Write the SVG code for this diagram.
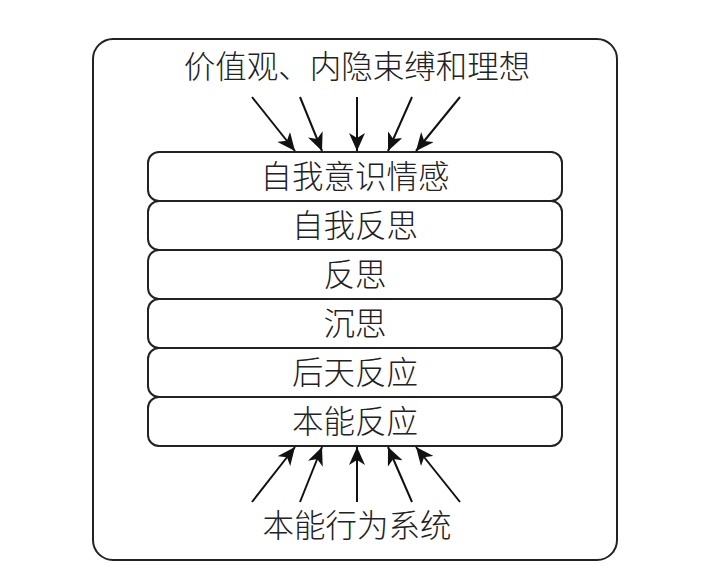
<svg xmlns="http://www.w3.org/2000/svg" width="720" height="571" viewBox="0 0 720 571">
<style>
.t{font-family:"Noto Sans CJK SC","Noto Sans CJK JP",sans-serif;font-size:31.5px;font-weight:300;fill:#222;text-anchor:middle}
.layer{fill:#fff;stroke:#222;stroke-width:2}
.ar{stroke:#111;stroke-width:2;fill:none;marker-end:url(#ah)}
</style>
<defs>
<marker id="ah" markerUnits="userSpaceOnUse" markerWidth="20" markerHeight="16" refX="18" refY="8" orient="auto">
<path d="M0,0 L18,8 L0,16 L5,8 Z" fill="#111"/>
</marker>
</defs>
<rect width="720" height="571" fill="#fff"/>
<g id="frame"><rect x="93" y="39" width="524" height="521" rx="20" fill="none" stroke="#222" stroke-width="2"/></g>
<g id="top-label"><text class="t" x="357" y="78">价值观、内隐束缚和理想</text></g>
<g id="layer1"><rect class="layer" x="148" y="152" width="414" height="49" rx="11"/><text class="t" x="355" y="188">自我意识情感</text></g>
<g id="layer2"><rect class="layer" x="148" y="201" width="414" height="49" rx="11"/><text class="t" x="355" y="237">自我反思</text></g>
<g id="layer3"><rect class="layer" x="148" y="250" width="414" height="49" rx="11"/><text class="t" x="355" y="286">反思</text></g>
<g id="layer4"><rect class="layer" x="148" y="299" width="414" height="49" rx="11"/><text class="t" x="355" y="335">沉思</text></g>
<g id="layer5"><rect class="layer" x="148" y="348" width="414" height="49" rx="11"/><text class="t" x="355" y="384">后天反应</text></g>
<g id="layer6"><rect class="layer" x="148" y="397" width="414" height="49" rx="11"/><text class="t" x="355" y="433">本能反应</text></g>
<g id="bottom-label"><text class="t" x="357" y="537">本能行为系统</text></g>
<g id="connectors">
<line class="ar" x1="252" y1="97" x2="295" y2="151"/>
<line class="ar" x1="300" y1="97" x2="322" y2="151"/>
<line class="ar" x1="357" y1="97" x2="357" y2="151"/>
<line class="ar" x1="412" y1="97" x2="388" y2="151"/>
<line class="ar" x1="460" y1="97" x2="416" y2="151"/>
<line class="ar" x1="252" y1="502" x2="295" y2="447"/>
<line class="ar" x1="300" y1="502" x2="322" y2="447"/>
<line class="ar" x1="357" y1="502" x2="357" y2="447"/>
<line class="ar" x1="412" y1="502" x2="388" y2="447"/>
<line class="ar" x1="460" y1="502" x2="416" y2="447"/>
</g>
</svg>
